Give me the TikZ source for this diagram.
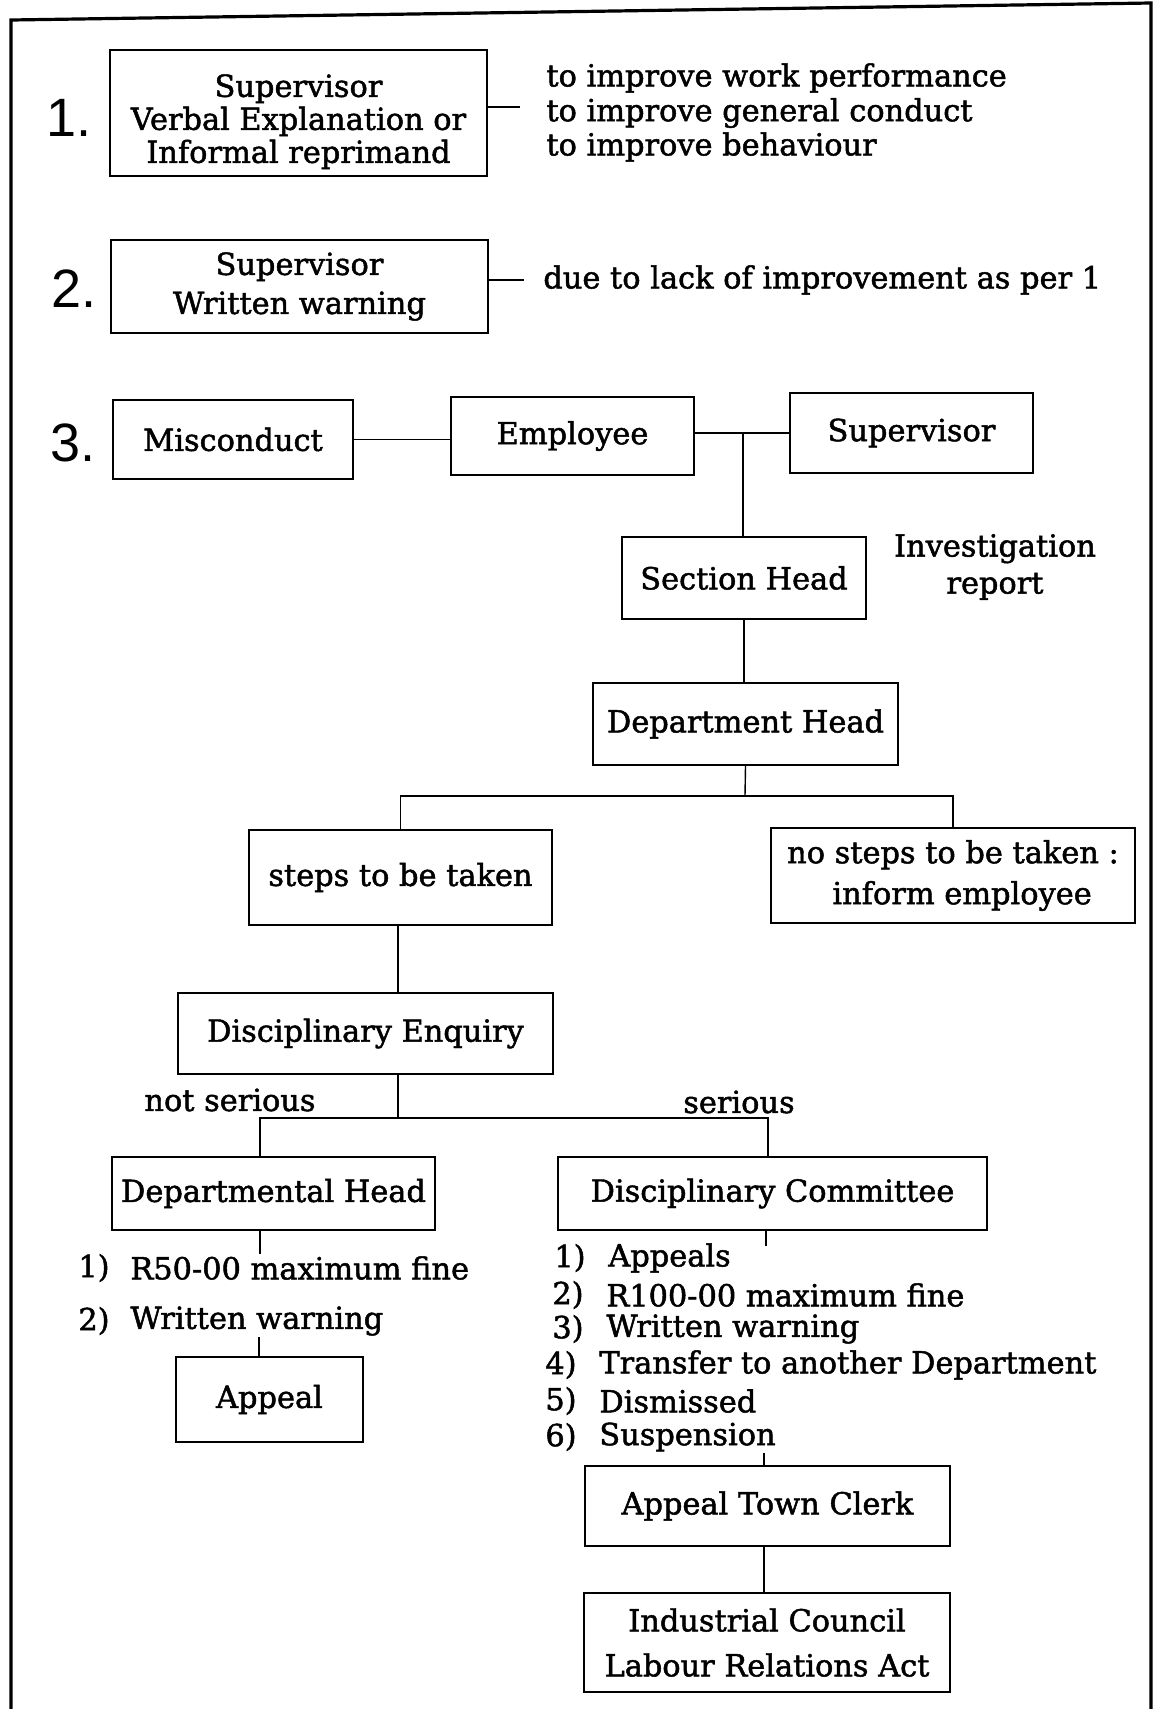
\documentclass[tikz,border=0pt]{standalone}
\usepackage{fontspec}
\setmainfont{DejaVu Serif}[BoldFont={DejaVu Serif},BoldFeatures={FakeBold=1.6}]
\newfontfamily\numfont{Liberation Sans}
\newcommand\txtfont{\fontsize{15.2}{16.5}\selectfont\bfseries}
\begin{document}
\begin{tikzpicture}[x=0.5pt,y=-0.5pt,
  box/.style={draw,line width=1.2pt,rectangle,inner sep=0pt,align=center,font=\txtfont},
  lbl/.style={inner sep=0pt,font=\txtfont,align=center},
  bignum/.style={inner sep=0pt,font=\numfont\fontsize{27}{30}\selectfont},
  conn/.style={line width=0.7pt},
  frame/.style={line width=1.6pt}]
\useasboundingbox (0,0) rectangle (1160,1709);

% outer frame, open at the bottom
\draw[frame] (11,1709) -- (11,20) -- (1151,3) -- (1151,1709);

% step numbers
\node[bignum] (n1) at (69,118) {1.};
\node[bignum] (n2) at (74,289) {2.};
\node[bignum] (n3) at (73,443) {3.};

% step 1
\node[box,minimum width=188.5pt,minimum height=63pt] (b1) at (298.5,113)
  {\rule{0pt}{20pt}Supervisor\\Verbal Explanation or\\Informal reprimand};
\coordinate (e1) at (520,107);
\draw[conn] (b1.east |- e1) -- (e1);
\node[lbl,anchor=west] (t1a) at (546,78) {to improve work performance};
\node[lbl,anchor=west] (t1b) at (546,113) {to improve general conduct};
\node[lbl,anchor=west] (t1c) at (546,147) {to improve behaviour};

% step 2
\node[box,minimum width=188.5pt,minimum height=46.5pt] (b2) at (299.5,286.5)
  {Supervisor\\[3pt]Written warning};
\coordinate (e2) at (524,280);
\draw[conn] (b2.east |- e2) -- (e2);
\node[lbl,anchor=west] (t2) at (543,280) {due to lack of improvement as per 1};

% step 3
\node[box,minimum width=120pt,minimum height=39.5pt] (mis) at (233,439.5) {Misconduct};
\node[box,minimum width=121.5pt,minimum height=39pt] (emp) at (572.5,436) {Employee};
\node[box,minimum width=121.5pt,minimum height=40pt] (sup) at (911.5,433) {Supervisor};
\node[box,minimum width=122pt,minimum height=41pt] (sec) at (744,578) {Section Head};
\node[lbl] (inv) at (995,567) {Investigation\\[2pt]report};
\node[box,minimum width=152.5pt,minimum height=41pt] (dep) at (745.5,724) {Department Head};
\node[box,minimum width=151.5pt,minimum height=47.5pt] (steps) at (400.5,877.5) {steps to be taken};
\node[box,minimum width=182pt,minimum height=47.5pt] (nosteps) at (953,875.5)
  {no steps to be taken :\\[4pt]\hspace*{0.6em}inform employee};
\node[box,minimum width=187.5pt,minimum height=40.5pt] (enq) at (365.5,1033.5) {Disciplinary Enquiry};

\coordinate (j1) at (743,433);
\coordinate (j2) at (745,796);
\coordinate (j3) at (398,1118);
\coordinate (jl) at (260,1118);
\coordinate (jr) at (768,1118);

\draw[conn] (mis.east) -- (mis.east -| emp.west);
\draw[conn] (emp.east |- j1) -- (j1) -- (sup.west |- j1);
\draw[conn] (j1) -- (j1 |- sec.north);
\draw[conn] (sec.south) -- (sec.south |- dep.north);
\draw[conn] (dep.south) -- (j2);
\draw[conn] (steps.north) |- (j2) -| (nosteps.north);
\draw[conn] (j3 |- steps.south) -- (j3 |- enq.north);
\draw[conn] (j3 |- enq.south) -- (j3);

\node[lbl] (nser) at (230,1100) {not serious};
\node[lbl] (ser) at (739,1102) {serious};

\node[box,minimum width=161.5pt,minimum height=36.5pt] (dhead) at (273.5,1193.5) {Departmental Head};
\node[box,minimum width=214.5pt,minimum height=36.5pt] (dcom) at (772.5,1193.5) {Disciplinary Committee};
\draw[conn] (jl |- dhead.north) -- (jl) -- (jr) -- (jr |- dcom.north);

% penalties of the departmental head
\coordinate (k1) at (260,1254);
\draw[conn] (k1 |- dhead.south) -- (k1);
\node[lbl,anchor=west] (l1n) at (78,1268) {1)};
\node[lbl,anchor=west] (l1t) at (130,1268) {R50-00 maximum fine};
\node[lbl,anchor=west] (l2n) at (78,1321) {2)};
\node[lbl,anchor=west] (l2t) at (130,1321) {Written warning};
\node[box,minimum width=93.5pt,minimum height=42.5pt] (appeal) at (269.5,1399.5) {Appeal};
\coordinate (k2) at (259,1337);
\draw[conn] (k2) -- (k2 |- appeal.north);

% penalties of the disciplinary committee
\coordinate (k3) at (766,1246);
\draw[conn] (k3 |- dcom.south) -- (k3);
\node[lbl,anchor=west] (r1n) at (554,1258) {1)};
\node[lbl,anchor=west] (r1t) at (608,1258) {Appeals};
\node[lbl,anchor=west] (r2n) at (552,1295) {2)};
\node[lbl,anchor=west] (r2t) at (606,1295) {R100-00 maximum fine};
\node[lbl,anchor=west] (r3n) at (552,1329) {3)};
\node[lbl,anchor=west] (r3t) at (606,1329) {Written warning};
\node[lbl,anchor=west] (r4n) at (545,1365) {4)};
\node[lbl,anchor=west] (r4t) at (599,1365) {Transfer to another Department};
\node[lbl,anchor=west] (r5n) at (545,1401) {5)};
\node[lbl,anchor=west] (r5t) at (599,1401) {Dismissed};
\node[lbl,anchor=west] (r6n) at (545,1437) {6)};
\node[lbl,anchor=west] (r6t) at (599,1437) {Suspension};

\node[box,minimum width=182.5pt,minimum height=40pt] (town) at (767.5,1506) {Appeal Town Clerk};
\node[box,minimum width=183pt,minimum height=49.5pt] (ind) at (767,1642.5)
  {Industrial Council\\[6pt]Labour Relations Act};
\coordinate (k4) at (764,1453);
\draw[conn] (k4) -- (k4 |- town.north);
\draw[conn] (town.south -| k4) -- (k4 |- ind.north);
\end{tikzpicture}
\end{document}
